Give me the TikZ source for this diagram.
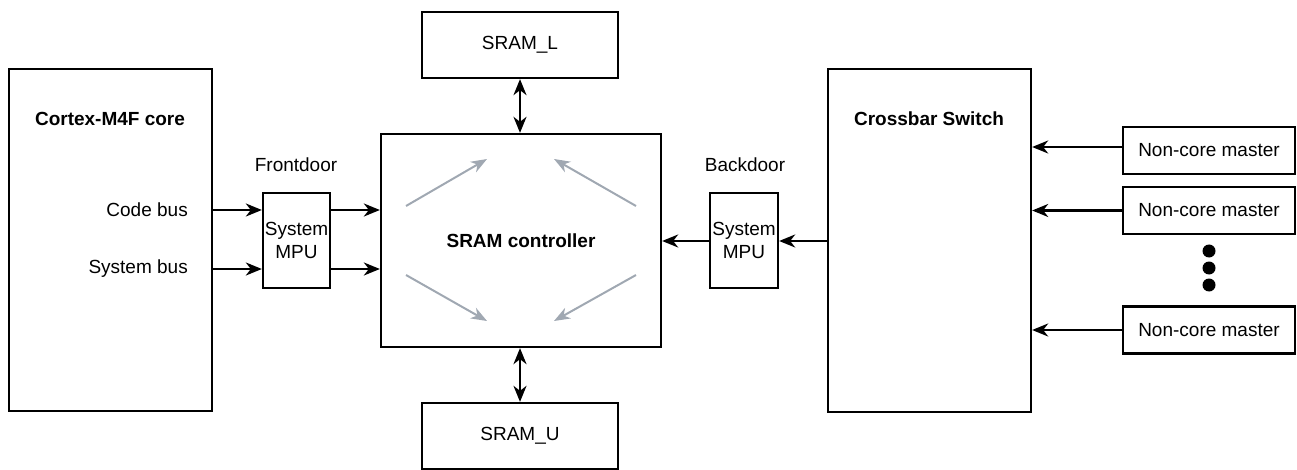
\documentclass[tikz,border=0pt]{standalone}
\usepackage{fontspec}
\setmainfont{Liberation Sans}
\usetikzlibrary{arrows.meta}
\definecolor{flowgray}{RGB}{160,168,178}
\begin{document}
\begin{tikzpicture}[x=1pt,y=-1pt,
  every node/.style={font=\fontsize{19}{21}\selectfont, inner sep=0pt},
  blk/.style={draw, line width=2.3pt, minimum width=#1},
  arr/.style={line width=2.3pt, -{Stealth[length=16pt,width=13pt,inset=5pt]}},
  darr/.style={line width=2.3pt, {Stealth[length=16pt,width=13pt,inset=5pt]}-{Stealth[length=16pt,width=13pt,inset=5pt]}},
  garr/.style={line width=2pt, draw=flowgray, -{Stealth[length=16pt,width=12pt,inset=5pt]}}]
\useasboundingbox (0,0) rectangle (1297,470);

% main blocks
\node[blk=203pt, minimum height=342pt] (core) at (110.5,240) {};
\node[font=\fontsize{19}{21}\selectfont\bfseries] (corelbl) at (110,119) {Cortex-M4F core};
\node[anchor=east] (codebus) at (188,210) {Code bus};
\node[anchor=east] (sysbus) at (188,269) {System bus};

\node[blk=67pt, minimum height=95pt, align=center, font=\fontsize{19}{23}\selectfont] (fmpu) at (296.5,240.5) {System\\MPU};
\node (front) at (296,165) {Frontdoor};

\node[blk=280pt, minimum height=213pt, font=\fontsize{19}{21}\selectfont\bfseries] (ctrl) at (521,240.5) {SRAM controller};
\node[blk=196pt, minimum height=66pt] (sraml) at (520,45) {SRAM\_L};
\node[blk=196pt, minimum height=66pt] (sramu) at (520,436) {SRAM\_U};

\node[blk=68pt, minimum height=95pt, align=center, font=\fontsize{19}{23}\selectfont] (bmpu) at (744,240.5) {System\\MPU};
\node (back) at (745,165) {Backdoor};

\node[blk=203pt, minimum height=343pt] (xbar) at (929.5,240.5) {};
\node[font=\fontsize{19}{21}\selectfont\bfseries] (xbarlbl) at (929,119) {Crossbar Switch};

\node[blk=172pt, minimum height=47pt] (nc1) at (1209,150.5) {Non-core master};
\node[blk=172pt, minimum height=47pt] (nc2) at (1209,210.5) {Non-core master};
\node[blk=172pt, minimum height=47pt] (nc3) at (1209,330) {Non-core master};

\fill (1209,251) circle (6.5pt);
\fill (1209,268) circle (6.5pt);
\fill (1209,285) circle (6.5pt);

% row coordinates
\coordinate (ycb) at (0,210);
\coordinate (ysb) at (0,269);
\coordinate (ymid) at (0,241);
\coordinate (ync1) at (0,147);

% connectors
\draw[arr] (core.east |- ycb) -- (fmpu.west |- ycb);
\draw[arr] (core.east |- ysb) -- (fmpu.west |- ysb);
\draw[arr] (fmpu.east |- ycb) -- (ctrl.west |- ycb);
\draw[arr] (fmpu.east |- ysb) -- (ctrl.west |- ysb);
\draw[darr] (sraml.south) -- (ctrl.north -| sraml.south);
\draw[darr] (ctrl.south -| sramu.north) -- (sramu.north);
\draw[arr] (xbar.west |- ymid) -- (bmpu.east |- ymid);
\draw[arr] (bmpu.west |- ymid) -- (ctrl.east |- ymid);
\draw[arr] (nc1.west |- ync1) -- (xbar.east |- ync1);
\draw[arr] (nc2.west) -- (xbar.east |- nc2.west);
\draw[arr] (nc3.west) -- (xbar.east |- nc3.west);

% internal flow arrows
\coordinate (g1s) at (406,206); \coordinate (g1e) at (487,159);
\coordinate (g2s) at (636,206); \coordinate (g2e) at (554,159);
\coordinate (g3s) at (406,275); \coordinate (g3e) at (487,321);
\coordinate (g4s) at (636,275); \coordinate (g4e) at (554,321);
\draw[garr] (g1s) -- (g1e);
\draw[garr] (g2s) -- (g2e);
\draw[garr] (g3s) -- (g3e);
\draw[garr] (g4s) -- (g4e);
\end{tikzpicture}
\end{document}
